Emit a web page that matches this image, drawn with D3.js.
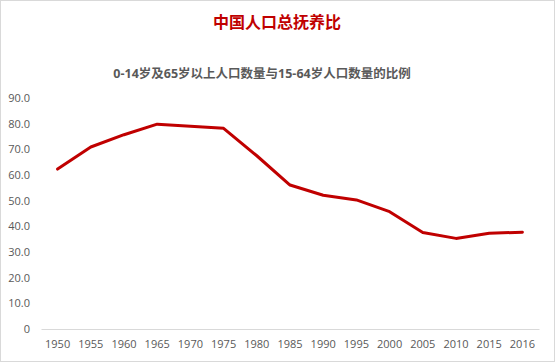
<!DOCTYPE html>
<html>
<head>
<meta charset="utf-8">
<script src="https://cdn.jsdelivr.net/npm/d3@7"></script>
<style>
  body { margin: 0; background: #fff; }
  svg { display: block; }
</style>
</head>
<body>
<svg id="chart" width="555" height="362"></svg>
<script>
// data
var years = ["1950", "1955", "1960", "1965", "1970", "1975", "1980", "1985",
  "1990", "1995", "2000", "2005", "2010", "2015", "2016"];
var ratio = [62.3, 70.9, 75.7, 79.8, 79.0, 78.2, 67.5, 56.1,
  52.1, 50.3, 45.7, 37.6, 35.3, 37.3, 37.7];
var yTicks = [0, 10, 20, 30, 40, 50, 60, 70, 80, 90];

var svg = d3.select("#chart"),
  width = +svg.attr("width"),
  height = +svg.attr("height");

var fontFam = "'Open Sans', 'Noto Sans CJK SC', sans-serif";

// outer border
svg.append("rect")
  .attr("x", 0.5).attr("y", 0.5)
  .attr("width", width - 1).attr("height", height - 1)
  .attr("fill", "#fff")
  .attr("stroke", "#d9d9d9");

var margin = { left: 41, right: 16, top: 98, bottom: 33 };

var x = d3.scaleBand()
  .domain(years)
  .range([margin.left, width - margin.right]);

var y = d3.scaleLinear()
  .domain([0, 90])
  .range([height - margin.bottom, margin.top]);

// titles
svg.append("text")
  .attr("x", 277).attr("y", 28)
  .attr("text-anchor", "middle")
  .attr("font-family", "'Noto Sans CJK SC', sans-serif")
  .attr("font-weight", "bold")
  .attr("font-size", 16)
  .attr("fill", "#c00000")
  .text("中国人口总抚养比");

svg.append("text")
  .attr("x", 262).attr("y", 78)
  .attr("text-anchor", "middle")
  .attr("font-family", fontFam)
  .attr("font-weight", "bold")
  .attr("font-size", 12.5)
  .attr("fill", "#595959")
  .text("0-14岁及65岁以上人口数量与15-64岁人口数量的比例");

// y axis labels
var yAxis = d3.axisLeft(y)
  .tickValues(yTicks)
  .tickSize(0)
  .tickPadding(11)
  .tickFormat(function (d) { return d === 0 ? "0" : d3.format(".1f")(d); });

var gy = svg.append("g")
  .attr("transform", "translate(" + margin.left + ",0)")
  .call(yAxis);
gy.select(".domain").remove();
gy.selectAll("text")
  .attr("font-family", fontFam)
  .attr("font-size", 11)
  .attr("fill", "#595959");

// x axis
var xAxis = d3.axisBottom(x).tickSize(0).tickPadding(11);
var gx = svg.append("g")
  .attr("transform", "translate(0," + y(0) + ")")
  .call(xAxis);
gx.select(".domain").attr("stroke", "#d9d9d9");
gx.selectAll("text")
  .attr("font-family", fontFam)
  .attr("font-size", 11)
  .attr("fill", "#595959");

// line
var line = d3.line()
  .x(function (d, i) { return x(years[i]) + x.bandwidth() / 2; })
  .y(function (d) { return y(d); });

svg.append("path")
  .datum(ratio)
  .attr("d", line)
  .attr("fill", "none")
  .attr("stroke", "#c00000")
  .attr("stroke-width", 3)
  .attr("stroke-linejoin", "round")
  .attr("stroke-linecap", "round");
</script>
</body>
</html>
